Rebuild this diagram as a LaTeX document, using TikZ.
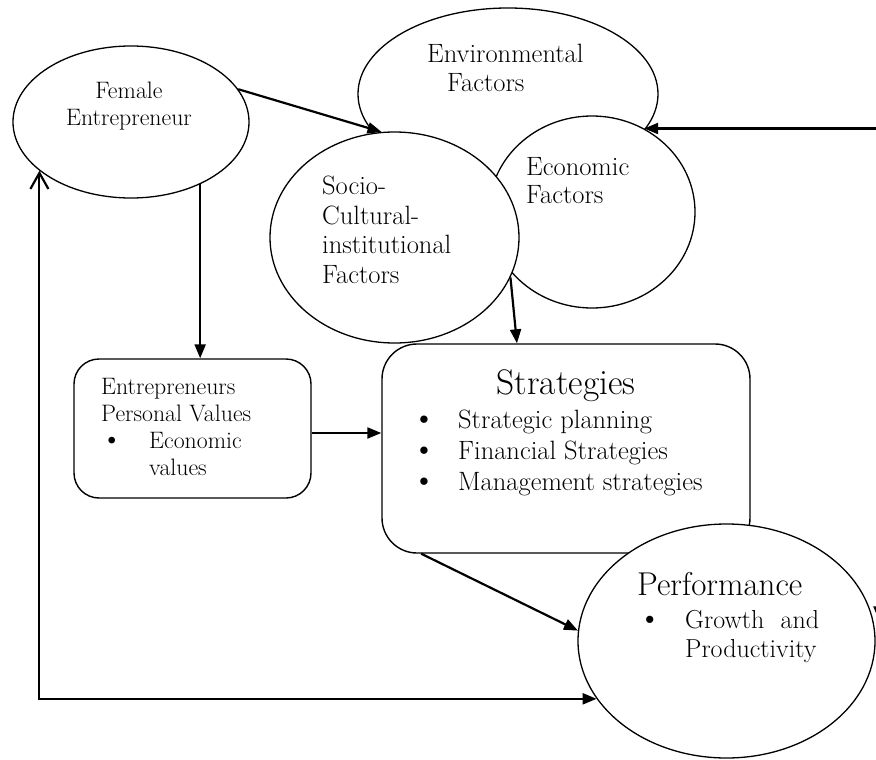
\documentclass[tikz,border=0pt]{standalone}
\usepackage{fontspec}
\usetikzlibrary{shapes.geometric}
\usetikzlibrary{arrows,arrows.meta}
\usetikzlibrary{calc}

\newcommand{\pkt}{\smash{\scalebox{1.25}{\textbullet}}}

\tikzset{
	ell/.style={draw, ellipse, line width=1.3pt, fill=white, inner sep=0pt},
	kasten/.style={draw, rectangle, rounded corners=#1, line width=1.4pt, fill=white, inner sep=0pt},
	pfl/.style={line width=2.2pt, -{Triangle[length=14pt,width=11pt]}},
	txt/.style={inner sep=0pt, align=left, anchor=base west},
}

\begin{document}
\begin{tikzpicture}[x=1pt, y=-1pt]
	\useasboundingbox (0,0) rectangle (876,760);

	% Faktoren oben
	\node[ell, minimum width=300pt, minimum height=172pt] (Env) at (508,94) {};
	\node[ell, minimum width=206pt, minimum height=192pt] (Econ) at (592,212) {};
	\node[ell, minimum width=249pt, minimum height=211pt] (Socio) at (394.5,237.5) {};
	\node[ell, minimum width=236pt, minimum height=152pt] (FE) at (131,122) {};

	% (base = letzte Zeile)
	\node[txt, font=\fontsize{26.5}{29}\selectfont] (EnvT) at (427,92) {Environmental\\\hspace*{20pt}Factors};
	\node[txt, font=\fontsize{26.5}{28}\selectfont] (EconT) at (526,203) {Economic\\Factors};
	\node[txt, font=\fontsize{26.5}{29.5}\selectfont] (SocioT) at (322,283) {Socio-\\Cultural-\\institutional\\Factors};
	\node[txt, anchor=base, align=center, font=\fontsize{23.8}{27}\selectfont] (FET) at (129,125) {Female\\Entrepreneur};

	% Kaesten
	\node[kasten=25pt, minimum width=237pt, minimum height=139pt] (PV) at (192.5,428.5) {};
	\node[kasten=35pt, minimum width=368pt, minimum height=209pt] (Strat) at (566,448.5) {};
	\node[ell, minimum width=297pt, minimum height=234pt] (Perf) at (726.5,641) {};

	\node[txt, font=\fontsize{23.8}{27}\selectfont] (PVT) at (101,475) {Entrepreneurs\\Personal Values\\\makebox[48pt][l]{\pkt}Economic\\\hspace*{48pt}values};
	\node[txt, anchor=base, font=\fontsize{35.5}{38}\selectfont] (StratT) at (566,394) {Strategies};
	\node[txt, font=\fontsize{26.5}{31}\selectfont] (StratL) at (412,490) {\makebox[46pt][l]{\pkt}Strategic planning\\\makebox[46pt][l]{\pkt}Financial Strategies\\\makebox[46pt][l]{\pkt}Management strategies};
	\node[txt, font=\fontsize{33}{36}\selectfont] (PerfT) at (637,595) {Performance};
	\node[txt, font=\fontsize{26}{29}\selectfont] (PerfL) at (638,657) {\makebox[47pt][l]{\pkt}\hbox to 134pt{Growth\hfill and}\\\hspace*{47pt}Productivity};

	% Pfeile
	\draw[pfl] (FE.17) -- (Socio.97);
	\draw[pfl] (FE.-42) -- (FE.-42 |- PV.north);
	\draw[pfl] ([yshift=-4.5pt]PV.east) -- ([yshift=-4.5pt]PV.east -| Strat.west);
	\draw[pfl] (Socio.-19) -- (Strat.115);
	\draw[pfl] (Strat.216) -- (Perf.176);
	\draw[line width=2.2pt, {Straight Barb[length=16pt,width=18pt]}-{Triangle[length=14pt,width=11pt]}] (FE.208) -- (FE.208 |- Perf.204) -- (Perf.204);

	\coordinate (rand) at (879,132);
	\draw[line width=2.2pt, {Triangle[length=14pt,width=11pt]}-{Triangle[length=14pt,width=11pt]}] (Econ.58) -- (Econ.58 -| rand) -- (rand |- Perf.8);

\end{tikzpicture}
\end{document}
